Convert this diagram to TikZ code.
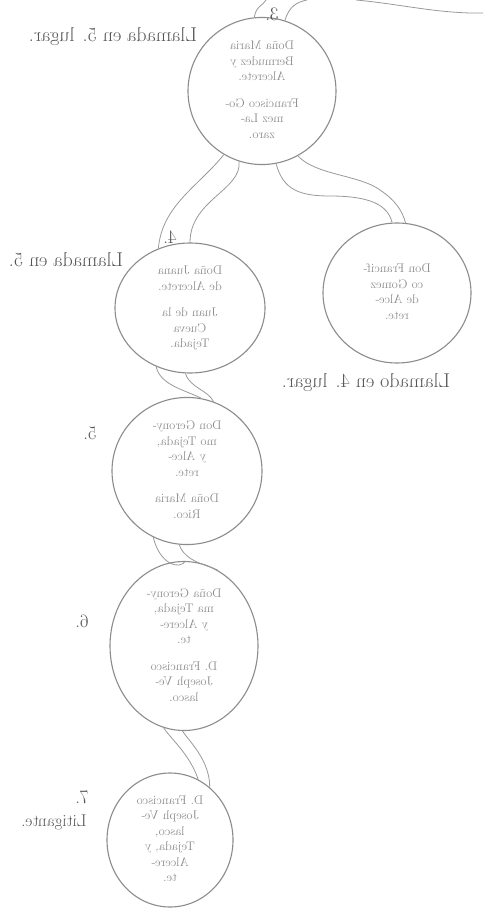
\documentclass[tikz,border=0pt]{standalone}
\usepackage{fontspec}
\usepackage{graphicx}
\usetikzlibrary{shapes.geometric}
\definecolor{ringc}{HTML}{8C8C8C}
\definecolor{linec}{HTML}{9A9A9A}
\definecolor{txtc}{HTML}{8E8E8E}
\definecolor{labc}{HTML}{555555}
\newcommand\circfont{\fontsize{12.5}{15.5}\selectfont\addfontfeatures{LetterSpace=6}}
\newcommand\mirtxt[1]{\reflectbox{#1}}
\newcommand\mirblock[1]{\reflectbox{\begin{tabular}{@{}c@{}}#1\end{tabular}}}
\begin{document}
\begin{tikzpicture}[x=1pt,y=-1pt,
  circnode/.style={ellipse, draw=ringc, line width=1.1pt, inner sep=0pt, text=txtc, font=\circfont},
  lab/.style={text=labc, font=\fontsize{20}{24}\selectfont, inner sep=0pt},
  num/.style={text=labc, font=\fontsize{19}{22}\selectfont, inner sep=0pt},
  conn/.style={draw=linec, line width=0.8pt}]
\fill[white] (0,0) rectangle (483,912);
\useasboundingbox (0,0) rectangle (483,912);

% circles
\node[circnode, minimum width=148pt, minimum height=134pt] (c1) at (262,91)
  {\mirblock{Doña Maria\\Bermudez y\\Alcerete.\\[11pt]Francisco Go-\\mez La-\\zaro.}};
\node[circnode, minimum width=150pt, minimum height=130pt] (c2) at (190,308)
  {\mirblock{Doña Juana\\de Alcerete.\\[11pt]Juan de la\\Cueva\\Tejada.}};
\node[circnode, minimum width=148pt, minimum height=140pt] (c3) at (397,293)
  {\mirblock{Don Francif-\\co Gomez\\de Alce-\\rete.}};
\node[circnode, minimum width=150pt, minimum height=138pt] (c4) at (187,471)
  {\mirblock{Don Gerony-\\mo Tejada,\\y Alce-\\rete.\\[11pt]Doña Maria\\Rico.}};
\node[circnode, minimum width=148pt, minimum height=132pt] (c5) at (184,646)
  {\mirblock{Doña Gerony-\\ma Tejada,\\y Alcere-\\te.\\[11pt]D. Francisco\\Joseph Ve-\\lasco.}};
\node[circnode, minimum width=126pt, minimum height=134pt] (c6) at (170,840)
  {\mirblock{D. Francisco\\Joseph Ve-\\lasco,\\Tejada, y\\Alcere-\\te.}};

% labels
\node[lab] (l1) at (113,37) {\mirtxt{Llamada en 5. lugar.}};
\node[lab] (l2) at (66,260) {\mirtxt{Llamada en 5.}};
\node[lab] (l3) at (366,383) {\mirtxt{Llamado en 4. lugar.}};
\node[num] (n3) at (272,14) {\mirtxt{3.}};
\node[num] (n4) at (170,237) {\mirtxt{4.}};
\node[num] (n5) at (90,433) {\mirtxt{5.}};
\node[num] (n6) at (82,621) {\mirtxt{6.}};
\node[num] (n7) at (82,797) {\mirtxt{7.}};
\node[lab, font=\fontsize{17}{20}\selectfont] (l4) at (54,822) {\mirtxt{Litigante.}};

% free ends at the top
\coordinate (t1) at (266,0);
\coordinate (t2) at (307,0);
\coordinate (t3) at (356,0);
\coordinate (t4) at (483,13);

% connectors (double lines)
\draw[conn] (c1.96) .. controls +(2,-12) and +(-3,6) .. (t1);
\draw[conn] (c1.72) .. controls +(4,-14) and +(-10,2) .. (t2);
\draw[conn] (t3) .. controls (400,4) and (440,14) .. (t4);

\draw[conn] (c1.239) .. controls (200,185) and (162,205) .. (c2.118);
\draw[conn] (c1.252) .. controls (242,190) and (190,200) .. (c2.90);

\draw[conn] (c1.281) .. controls (283,190) and (300,196) .. (330,196)
   .. controls (370,196) and (388,205) .. (c3.94);
\draw[conn] (c1.299) .. controls (315,175) and (360,175) .. (380,190)
   .. controls (395,200) and (402,210) .. (c3.83);

\draw[conn] (c2.240) .. controls (160,385) and (185,390) .. (c4.79);
\draw[conn] (c2.266) .. controls (190,388) and (208,390) .. (c4.69);

\draw[conn] (c4.243) .. controls (160,565) and (180,570) .. (c5.89);
\draw[conn] (c4.264) .. controls (185,562) and (208,565) .. (c5.66);

\draw[conn] (c5.256) .. controls (172,740) and (190,755) .. (c6.65);
\draw[conn] (c5.269) .. controls (188,740) and (210,760) .. (c6.53);
\end{tikzpicture}
\end{document}
